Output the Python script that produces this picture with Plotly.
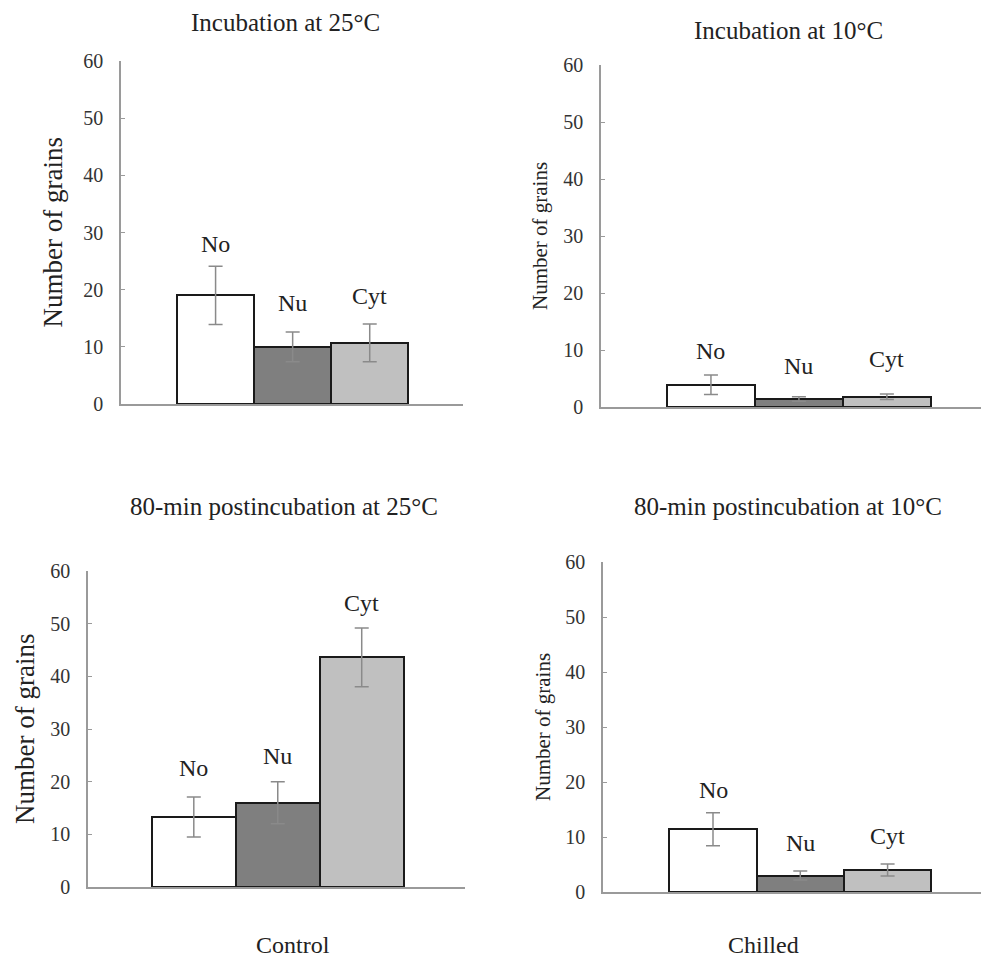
import plotly.graph_objects as go

W, H = 981, 960

# ---- data ----
categories = ["No", "Nu", "Cyt"]
panel_titles = [
    "Incubation at 25°C",
    "Incubation at 10°C",
    "80-min postincubation at 25°C",
    "80-min postincubation at 10°C",
]
values = [
    [19.0, 10.0, 10.7],   # incubation 25°C
    [3.9, 1.4, 1.8],      # incubation 10°C
    [13.3, 16.0, 43.6],   # postincubation 25°C
    [11.4, 3.0, 4.0],     # postincubation 10°C
]
errors = [
    [5.1, 2.6, 3.3],
    [1.7, 0.4, 0.5],
    [3.8, 4.0, 5.6],
    [3.0, 0.8, 1.1],
]
y_ticks = [0, 10, 20, 30, 40, 50, 60]
group_labels = ["Control", "Chilled"]

# ---- style / layout ----
bar_colors = ["#ffffff", "#7f7f7f", "#c0c0c0"]
FONT = "Liberation Serif, Times New Roman, serif"

panels = [
    dict(xpx=(121, 463), ypx=(61, 404), xr=(-1.227, 3.21), big=True,
         title_xy=(285, 23), ylab_x=52),
    dict(xpx=(601, 981), ypx=(65, 407), xr=(-1.25, 3.07), big=False,
         title_xy=(788, 30), ylab_x=540),
    dict(xpx=(88, 465), ypx=(571, 887), xr=(-1.26, 3.23), big=True,
         title_xy=(284, 507), ylab_x=25),
    dict(xpx=(603, 981), ypx=(562, 892), xr=(-1.26, 3.07), big=False,
         title_xy=(788, 506), ylab_x=543),
]
label_shift = [
    [22, 29, 28],
    [24, 31, 35],
    [29, 26, 25],
    [23, 28, 28],
]
group_label_xy = [(293, 945), (763, 945)]

fig = go.Figure()
annotations = []
layout_axes = {}

for i, p in enumerate(panels):
    n = "" if i == 0 else str(i + 1)
    xa, ya = "x" + n, "y" + n
    fig.add_trace(go.Bar(
        x=[0, 1, 2], y=values[i], width=1.0,
        marker=dict(color=bar_colors, line=dict(color="#1a1a1a", width=2)),
        error_y=dict(type="data", array=errors[i], color="#8a8a8a",
                     thickness=1.5, width=7),
        xaxis=xa, yaxis=ya, showlegend=False, hoverinfo="skip",
    ))
    x0, x1 = p["xpx"]
    yt, yb = p["ypx"]
    layout_axes["xaxis" + n] = dict(
        domain=[x0 / W, x1 / W], range=list(p["xr"]), anchor=ya,
        showticklabels=False, ticks="", showgrid=False, zeroline=False,
        showline=True, linecolor="#9a9a9a", linewidth=1.5, fixedrange=True,
        automargin=False,
    )
    layout_axes["yaxis" + n] = dict(
        domain=[1 - yb / H, 1 - yt / H], range=[0, 60], anchor=xa,
        tickvals=y_ticks, ticks="inside", ticklen=4, tickcolor="#9a9a9a",
        tickfont=dict(family=FONT, size=20, color="#333333"),
        showgrid=False, zeroline=False, showline=True, linecolor="#9a9a9a",
        linewidth=1.5, ticklabelstandoff=12, automargin=False,
    )
    tx, ty = p["title_xy"]
    annotations.append(dict(
        text=panel_titles[i], x=tx / W, y=1 - ty / H, xref="paper", yref="paper",
        xanchor="center", yanchor="middle", showarrow=False,
        font=dict(family=FONT, size=25, color="#222222"),
    ))
    annotations.append(dict(
        text="Number of grains", x=p["ylab_x"] / W, y=1 - ((yt + yb) / 2) / H,
        xref="paper", yref="paper", textangle=-90, xanchor="center",
        yanchor="middle", showarrow=False,
        font=dict(family=FONT, size=27 if p["big"] else 21, color="#222222"),
    ))
    for j, c in enumerate(categories):
        annotations.append(dict(
            text=c, x=j, y=values[i][j] + errors[i][j], xref=xa, yref=ya,
            xanchor="center", yanchor="middle", yshift=label_shift[i][j],
            showarrow=False, font=dict(family=FONT, size=24, color="#222222"),
        ))

for k, (gx, gy) in enumerate(group_label_xy):
    annotations.append(dict(
        text=group_labels[k], x=gx / W, y=1 - gy / H, xref="paper", yref="paper",
        xanchor="center", yanchor="middle", showarrow=False,
        font=dict(family=FONT, size=24, color="#222222"),
    ))

fig.update_layout(
    width=W, height=H,
    margin=dict(l=0, r=0, t=0, b=0, pad=0, autoexpand=False),
    paper_bgcolor="white", plot_bgcolor="white",
    font=dict(family=FONT),
    annotations=annotations, bargap=0, **layout_axes,
)

post = (
    "document.documentElement.style.margin='0';"
    "document.documentElement.style.overflow='hidden';"
    "document.body.style.margin='0';document.body.style.overflow='hidden';"
    "var d=document.getElementById('{plot_id}');"
    "d.style.position='fixed';d.style.top='0px';d.style.left='0px';"
)
fig.write_html("out.html", config={"displayModeBar": False}, post_script=post)
